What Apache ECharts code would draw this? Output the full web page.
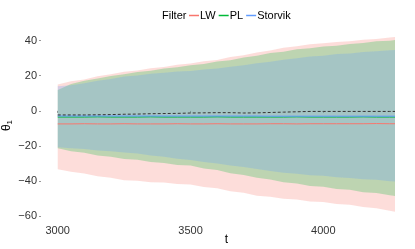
<!DOCTYPE html>
<html><head><meta charset="utf-8">
<script src="https://cdn.jsdelivr.net/npm/echarts@6/dist/echarts.min.js"></script>
<style>html,body{margin:0;padding:0;background:#fff}#c{width:415px;height:249px}</style>
</head><body><div id="c"></div>
<script>
const filters = ['LW', 'PL', 'Storvik'];
const t = [3000,3050,3100,3150,3200,3250,3300,3350,3400,3450,3500,3550,3600,3650,3700,3750,3800,3850,3900,3950,4000,4050,4100,4150,4200,4250,4270];
const lwUpper = [15.0,16.8,17.9,19.7,20.8,22.2,23.0,24.3,24.9,26.2,27.0,28.2,28.9,30.6,31.6,33.2,34.3,35.9,36.8,37.9,38.4,39.2,39.6,40.5,40.9,41.7,42.0];
const lwLower = [-33.2,-34.6,-35.6,-37.2,-38.0,-39.4,-39.7,-40.5,-40.7,-41.5,-41.9,-43.2,-44.0,-45.7,-46.6,-48.2,-48.8,-50.0,-50.4,-51.5,-51.8,-53.0,-53.4,-54.7,-55.3,-56.8,-57.3];
const plUpper = [11.9,15.3,17.1,18.4,19.9,20.8,22.1,22.9,24.1,24.8,25.9,26.6,28.1,28.8,30.4,31.3,32.9,33.6,35.1,35.6,36.6,37.1,38.1,38.6,39.6,39.9,40.3];
const plLower = [-21.3,-22.9,-23.8,-25.4,-26.1,-27.4,-27.8,-29.0,-29.6,-30.8,-31.1,-32.7,-33.6,-35.4,-36.4,-38.0,-39.0,-40.6,-41.3,-42.7,-43.1,-44.4,-44.9,-46.2,-46.7,-48.0,-48.4];
const svUpper = [14.0,14.6,15.7,17.1,18.2,19.5,20.1,21.1,21.7,22.4,22.7,23.6,24.1,25.1,25.9,27.1,27.9,29.1,29.9,30.9,31.4,32.3,32.7,33.5,33.9,34.5,34.6];
const svLower = [-20.7,-21.3,-21.7,-22.5,-22.9,-23.6,-24.2,-25.3,-26.1,-27.2,-27.9,-29.1,-29.9,-31.1,-31.9,-33.1,-34.1,-35.1,-35.7,-36.6,-36.9,-37.7,-38.1,-38.9,-39.2,-40.0,-40.2];
const lwMean = [-7.4,-7.4,-7.3,-7.4,-7.4,-7.3,-7.4,-7.4,-7.4,-7.3,-7.4,-7.4,-7.3,-7.4,-7.4,-7.4,-7.3,-7.3,-7.4,-7.3,-7.3,-7.3,-7.3,-7.3,-7.2,-7.3,-7.3];
const plMean = [-3.5,-3.5,-3.5,-3.4,-3.5,-3.5,-3.5,-3.4,-3.5,-3.5,-3.5,-3.5,-3.4,-3.5,-3.5,-3.5,-3.5,-3.5,-3.4,-3.5,-3.5,-3.5,-3.5,-3.4,-3.5,-3.5,-3.5];
const svMean = [-2.9,-2.9,-2.9,-2.9,-2.9,-2.9,-2.9,-2.9,-2.9,-2.9,-2.9,-2.9,-2.9,-2.9,-2.9,-2.9,-3.0,-3.0,-3.0,-3.0,-3.0,-3.0,-3.0,-3.0,-3.0,-3.0,-3.0];
const truth = [-2.3,-2.3,-2.3,-2.2,-2.1,-1.9,-1.8,-1.6,-1.5,-1.4,-1.2,-1.1,-1.0,-1.0,-1.2,-1.1,-0.9,-0.7,-0.5,-0.3,-0.3,-0.3,-0.3,-0.3,-0.3,-0.3,-0.3];
const xTicks = [3000, 3500, 4000];
const yTicks = [-60, -40, -20, 0, 20, 40];

const colors = {LW: '#F8766D', PL: '#00BA38', Storvik: '#619CFF'};
const fills = {LW: 'rgba(248,118,109,0.25)', PL: 'rgba(0,186,56,0.25)', Storvik: 'rgba(97,156,255,0.25)'};

function band(name, lo, hi) {
  return {
    type: 'custom', name: name + ' band', silent: true,
    data: t.map((x, i) => [x, lo[i], hi[i]]),
    encode: {x: 0, y: [1, 2]},
    renderItem: function (params, api) {
      if (params.dataIndex !== 0) return null;
      const pts = [];
      for (let i = 0; i < t.length; i++) pts.push(api.coord([t[i], hi[i]]));
      for (let i = t.length - 1; i >= 0; i--) pts.push(api.coord([t[i], lo[i]]));
      return {type: 'polygon', shape: {points: pts}, style: {fill: fills[name]}};
    }
  };
}
function meanLine(name, vals) {
  return {
    type: 'line', name: name, data: t.map((x, i) => [x, vals[i]]),
    showSymbol: false, symbol: 'none', silent: true,
    lineStyle: {color: colors[name], width: 1}, itemStyle: {color: colors[name]}
  };
}

const chart = echarts.init(document.getElementById('c'), null, {renderer: 'canvas'});
chart.setOption({
  animation: false,
  textStyle: {fontFamily: 'Liberation Sans, Arial, sans-serif'},
  grid: {left: 41, right: 3, top: 30, bottom: 28, outerBoundsMode: 'none', containLabel: false},
  graphic: [{type: 'text', left: 162, top: 10, style: {text: 'Filter', font: '11px "Liberation Sans", Arial, sans-serif', fill: '#000'}}],
  legend: {
    left: 189, top: 10, itemWidth: 10, itemHeight: 1.5, itemGap: 3, icon: 'rect', padding: 0,
    data: filters,
    textStyle: {fontSize: 11, color: '#000', padding: [0, 0, 0, -4]}
  },
  xAxis: {
    type: 'value', min: 2937, max: 4334,
    name: 't', nameLocation: 'middle', nameGap: 13, nameMoveOverlap: false,
    nameTextStyle: {fontSize: 12, color: '#000'},
    axisLine: {show: false}, splitLine: {show: false},
    axisTick: {show: true, length: 2, lineStyle: {color: '#999'}, customValues: xTicks},
    axisLabel: {fontSize: 11, color: '#333', margin: 4, customValues: xTicks, formatter: v => String(v)}
  },
  yAxis: {
    type: 'value', min: -62.6, max: 46.0,
    name: '{a|θ}{b|1}', nameLocation: 'middle', nameGap: 27, nameRotate: 90, nameMoveOverlap: false,
    nameTextStyle: {rich: {a: {fontSize: 12, color: '#000'}, b: {fontSize: 8, color: '#000', padding: [6, 0, 0, 0]}}},
    axisLine: {show: false}, splitLine: {show: false},
    axisTick: {show: true, length: 2, lineStyle: {color: '#999'}, customValues: yTicks},
    axisLabel: {fontSize: 11, color: '#333', margin: 4, customValues: yTicks,
      formatter: v => String(v).replace('-', '\u2212')}
  },
  series: [
    meanLine('LW', lwMean),
    band('LW', lwLower, lwUpper),
    meanLine('PL', plMean),
    band('PL', plLower, plUpper),
    band('Storvik', svLower, svUpper),
    meanLine('Storvik', svMean),
    {type: 'line', name: 'truth', data: t.map((x, i) => [x, truth[i]]), showSymbol: false, symbol: 'none', silent: true,
      lineStyle: {color: '#333', width: 1, type: [3, 2]}}
  ]
});
</script></body></html>
